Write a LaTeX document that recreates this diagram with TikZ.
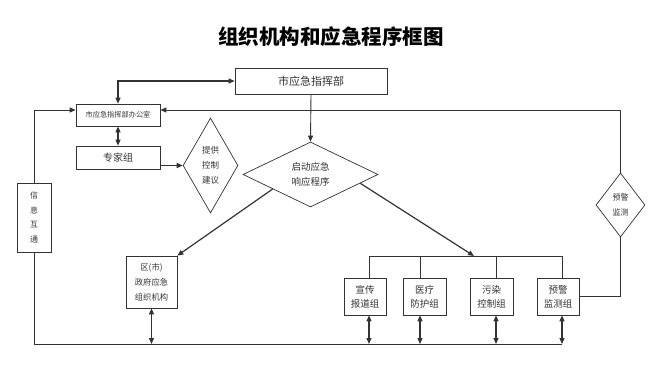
\documentclass[tikz,border=0pt]{standalone}
\usepackage{fontspec}
\newfontfamily\cjk{Noto Sans CJK SC}
\usetikzlibrary{arrows.meta,shapes.geometric,calc}
\definecolor{lc}{HTML}{333333}
\definecolor{tc}{HTML}{333333}
\begin{document}
\begin{tikzpicture}[x=1pt,y=-1pt,
  box/.style={draw=lc, line width=0.7pt, inner sep=0pt, align=center, text=tc},
  dia/.style={draw=lc, line width=0.7pt, diamond, inner sep=0pt, align=center, text=tc},
  ln/.style={draw=lc, line width=0.9pt},
  arr/.style={ln, -{Triangle[length=6pt,width=5pt]}},
  darr/.style={ln, line width=1.3pt, {Triangle[length=6pt,width=5pt]}-{Triangle[length=6pt,width=5pt]}},
  fs/.style={font=\cjk\fontsize{#1}{15}\selectfont}
]
\useasboundingbox[fill=white] (0,0) rectangle (658,379);

% title
\node[text=black, font=\cjk\bfseries\fontsize{20.5}{24}\selectfont] (title) at (331,37) {组织机构和应急程序框图};

% boxes
\node[box, fs=11, minimum width=152, minimum height=26] (zh) at (311,81) {市应急指挥部};
\node[box, fs=7.2, minimum width=84, minimum height=22] (of) at (118,115) {市应急指挥部办公室};
\node[box, fs=10, minimum width=84, minimum height=23] (zj) at (118,157.5) {专家组};
\node[dia, fs=8.5, minimum width=51, minimum height=95] (tg) at (210.5,165.5) {提供\\控制\\建议};
\node[dia, fs=9.5, minimum width=135, minimum height=65] (qd) at (310.5,174.5) {启动应急\\响应程序};
\node[dia, fs=8, minimum width=49, minimum height=64] (rd) at (620.5,205) {预警\\监测};
\node[box, font=\cjk\fontsize{8}{14.5}\selectfont, minimum width=34, minimum height=69] (xx) at (34,217.5) {信\\息\\互\\通};
\node[box, font=\cjk\fontsize{8.3}{15}\selectfont, minimum width=51, minimum height=52] (qu) at (151.5,282) {区(市)\\政府应急\\组织机构};
\node[box, font=\cjk\fontsize{9.5}{14}\selectfont, minimum width=42, minimum height=37] (g1) at (365,296.5) {宣传\\报道组};
\node[box, font=\cjk\fontsize{9.5}{14}\selectfont, minimum width=43, minimum height=37] (g2) at (424.5,296.5) {医疗\\防护组};
\node[box, font=\cjk\fontsize{9.5}{14}\selectfont, minimum width=43, minimum height=37] (g3) at (491.5,296.5) {污染\\控制组};
\node[box, font=\cjk\fontsize{9.5}{14}\selectfont, minimum width=42, minimum height=37] (g4) at (558,296.5) {预警\\监测组};

% coordinates
\coordinate (tl) at (34,110);
\coordinate (tr) at (620.5,110);
\coordinate (bl) at (34,344);
\coordinate (br) at (562,344);
\coordinate (d1) at (369,256);
\coordinate (d2) at (420,256);
\coordinate (d3) at (496,256);
\coordinate (d4) at (562,256);
\coordinate (bh) at (474,256);

% connectors
\draw[darr, line width=1.1pt] (of.north) |- (zh.west);
\draw[arr] (zh.south) -- (qd.north);
\draw[darr] (of.south) -- (zj.north);
\draw[arr, line width=1.2pt] (zj.east |- tg.west) -- (tg.west);
\draw[arr] (xx.north) -- (tl) -- (of.west |- tl);
\draw[arr] (rd.north) -- (tr) -- (of.east |- tr);
\draw[ln] (xx.south) -- (bl) -- (br);
\draw[arr, line width=1.2pt] (qd.201) -- (qu.north east);
\draw[arr, line width=1.2pt] (qd.-10) -- (bh);
\draw[ln] (d1) -- (d4);
\draw[ln] (d1) -- (d1 |- g1.north);
\draw[ln] (d2) -- (d2 |- g2.north);
\draw[ln] (d3) -- (d3 |- g3.north);
\draw[ln] (d4) -- (d4 |- g4.north);
\draw[darr] (qu.south) -- (qu.south |- bl);
\draw[darr] (d1 |- g1.south) -- (d1 |- bl);
\draw[darr] (d2 |- g2.south) -- (d2 |- bl);
\draw[darr] (d3 |- g3.south) -- (d3 |- bl);
\draw[darr] (d4 |- g4.south) -- (d4 |- bl);
\draw[ln] (g4.east) -| (rd.south);
\end{tikzpicture}
\end{document}
